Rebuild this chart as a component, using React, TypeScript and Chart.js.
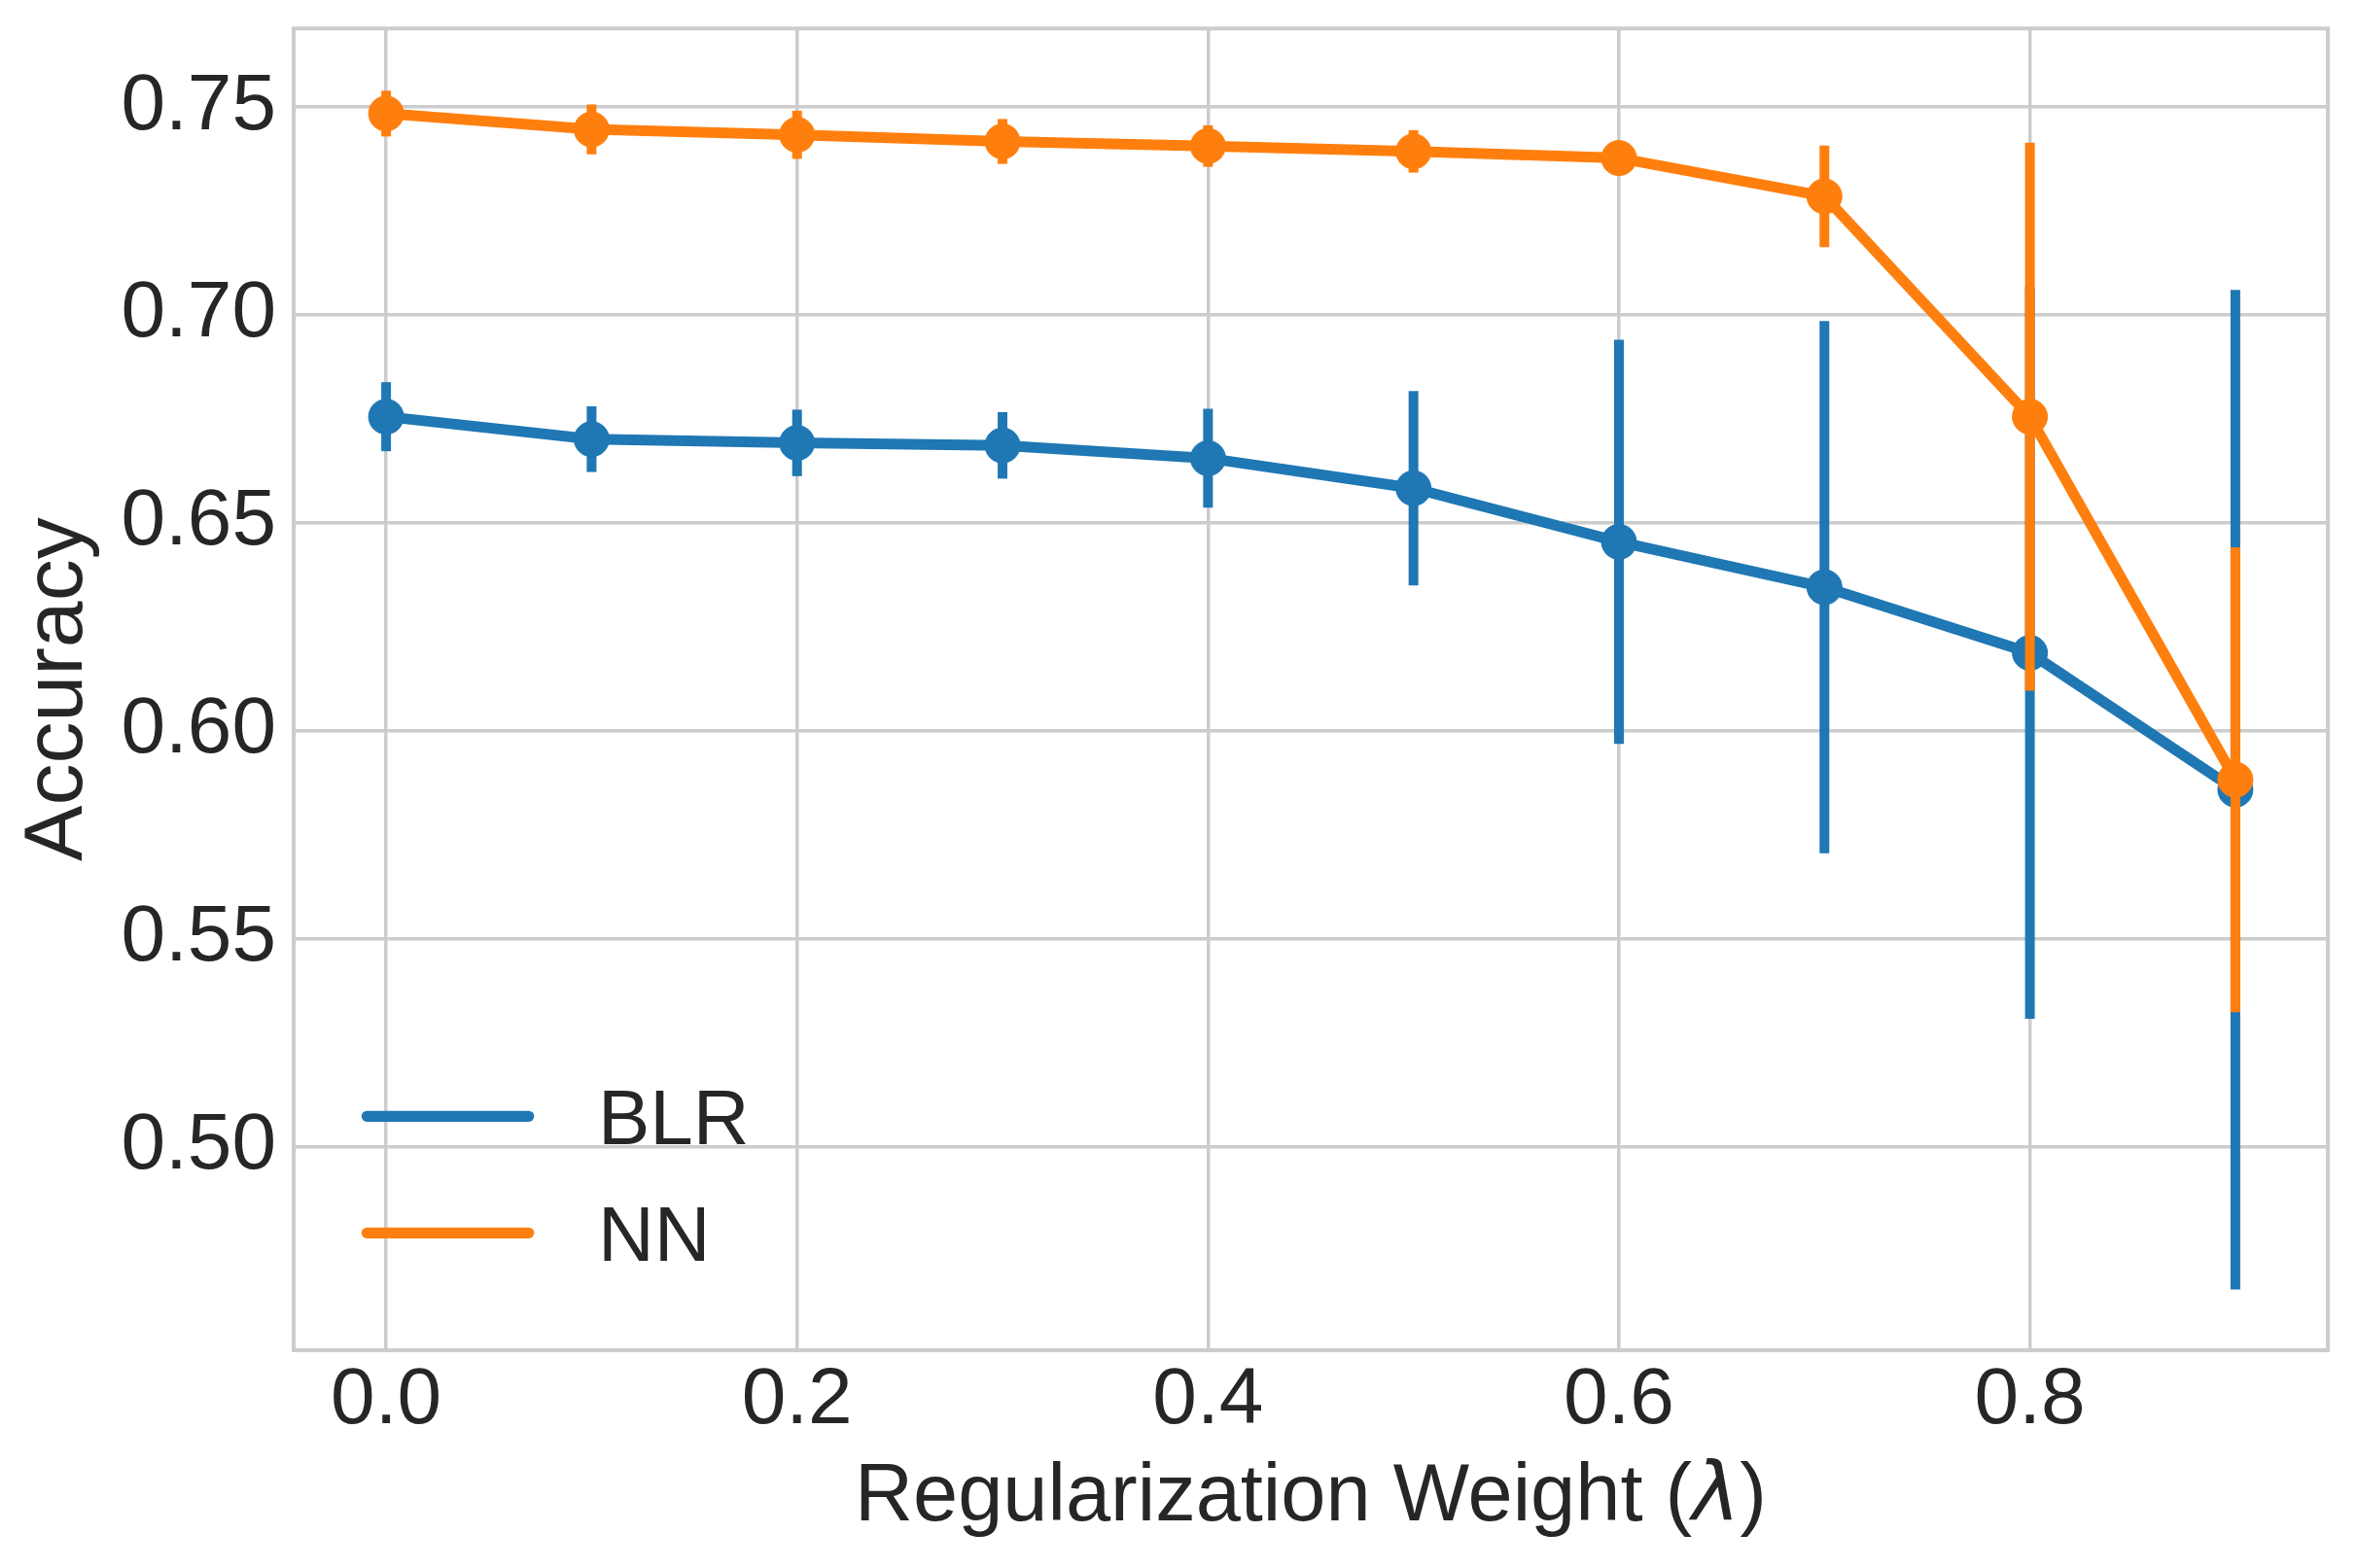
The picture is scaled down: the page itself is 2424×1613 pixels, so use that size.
import React, { useEffect, useRef } from 'react';
import { Chart, registerables } from 'chart.js';

Chart.register(...registerables);

// ---- data ----
const lambdas = [0.0, 0.1, 0.2, 0.3, 0.4, 0.5, 0.6, 0.7, 0.8, 0.9];
const blrMean = [0.6755, 0.6701, 0.6692, 0.6686, 0.6655, 0.6583, 0.6454, 0.6345, 0.6187, 0.5858];
const blrErr = [0.0083, 0.0079, 0.008, 0.008, 0.0119, 0.0234, 0.0486, 0.064, 0.088, 0.1202];
const nnMean = [0.7484, 0.7446, 0.7433, 0.7417, 0.7406, 0.7393, 0.7377, 0.7285, 0.6755, 0.5882];
const nnErr = [0.0055, 0.006, 0.0058, 0.0054, 0.005, 0.0051, 0.003, 0.0122, 0.0659, 0.0559];
const seriesLabels = ['BLR', 'NN'];
const xTicks = [0.0, 0.2, 0.4, 0.6, 0.8];
const yTicks = [0.5, 0.55, 0.6, 0.65, 0.7, 0.75];
const xLabelParts = ['Regularization Weight (', 'λ', ')'];
const yLabel = 'Accuracy';

const BLUE = '#1f77b4';
const ORANGE = '#ff7f0e';
const TEXT = '#262626';
const GRID = '#cccccc';
const FONT = "'Liberation Sans', Arial, Helvetica, sans-serif";
const MATH_FONT = "'DejaVu Sans', sans-serif";

const W = 2424;
const H = 1613;
const TICK_SIZE = 82;
const YLABEL_SIZE = 86;
const XLABEL_SIZE = 83;
const LEGEND_SIZE = 80;

const errorBarPlugin = {
  id: 'errorBars',
  beforeDatasetDraw(chart: any, args: any) {
    const ds = chart.data.datasets[args.index];
    const errs: number[] = ds.errors;
    if (!errs) return;
    const xs = chart.scales.x;
    const ys = chart.scales.y;
    const ctx = chart.ctx;
    ctx.save();
    ctx.strokeStyle = ds.borderColor;
    ctx.lineWidth = 10;
    ctx.lineCap = 'butt';
    ds.data.forEach((p: any, i: number) => {
      const x = xs.getPixelForValue(p.x);
      const y1 = ys.getPixelForValue(p.y + errs[i]);
      const y2 = ys.getPixelForValue(p.y - errs[i]);
      ctx.beginPath();
      ctx.moveTo(x, y1);
      ctx.lineTo(x, y2);
      ctx.stroke();
    });
    ctx.restore();
  },
};

const framePlugin = {
  id: 'frame',
  beforeDatasetsDraw(chart: any) {
    const { left, right, top, bottom } = chart.chartArea;
    const ctx = chart.ctx;
    ctx.save();
    ctx.strokeStyle = GRID;
    ctx.lineWidth = 4;
    ctx.strokeRect(left, top, right - left, bottom - top);
    ctx.restore();
  },
};

const xTitlePlugin = {
  id: 'xTitle',
  afterDraw(chart: any) {
    const { left, right } = chart.chartArea;
    const ctx = chart.ctx;
    ctx.save();
    ctx.fillStyle = TEXT;
    ctx.textBaseline = 'alphabetic';
    ctx.textAlign = 'left';
    const fonts = [
      `${XLABEL_SIZE}px ${FONT}`,
      `italic ${XLABEL_SIZE}px ${MATH_FONT}`,
      `${XLABEL_SIZE}px ${FONT}`,
    ];
    const widths = xLabelParts.map((t, i) => {
      ctx.font = fonts[i];
      return ctx.measureText(t).width;
    });
    const total = widths.reduce((a, b) => a + b, 0);
    let x = (left + right) / 2 - total / 2;
    const baseline = chart.scales.x.bottom - 49;
    xLabelParts.forEach((t, i) => {
      ctx.font = fonts[i];
      ctx.fillText(t, x, baseline);
      x += widths[i];
    });
    ctx.restore();
  },
};

const legendPlugin = {
  id: 'innerLegend',
  afterDraw(chart: any) {
    const { left, bottom } = chart.chartArea;
    const ctx = chart.ctx;
    const datasets = chart.data.datasets;
    const rowGap = 120;
    ctx.save();
    datasets.forEach((ds: any, i: number) => {
      const y = bottom - 120.7 - (datasets.length - 1 - i) * rowGap;
      ctx.strokeStyle = ds.borderColor;
      ctx.lineWidth = 11.3;
      ctx.lineCap = 'round';
      ctx.beginPath();
      ctx.moveTo(left + 75.4, y);
      ctx.lineTo(left + 241.7, y);
      ctx.stroke();
      ctx.fillStyle = TEXT;
      ctx.font = `${LEGEND_SIZE}px ${FONT}`;
      ctx.textBaseline = 'alphabetic';
      ctx.textAlign = 'left';
      ctx.fillText(ds.label, left + 313, y + 28.4);
    });
    ctx.restore();
  },
};

export default function App() {
  const ref = useRef<HTMLCanvasElement | null>(null);

  useEffect(() => {
    if (!ref.current) return;
    const mk = (mean: number[]) => lambdas.map((x, i) => ({ x, y: mean[i] }));
    const common = {
      borderWidth: 11,
      pointRadius: 18,
      pointBorderWidth: 1,
      borderJoinStyle: 'round',
      tension: 0,
    };
    const chart = new Chart(ref.current, {
      type: 'line',
      data: {
        datasets: [
          {
            ...common,
            label: seriesLabels[0],
            data: mk(blrMean),
            errors: blrErr,
            borderColor: BLUE,
            backgroundColor: BLUE,
            pointBackgroundColor: BLUE,
            pointBorderColor: BLUE,
            order: 2,
          } as any,
          {
            ...common,
            label: seriesLabels[1],
            data: mk(nnMean),
            errors: nnErr,
            borderColor: ORANGE,
            backgroundColor: ORANGE,
            pointBackgroundColor: ORANGE,
            pointBorderColor: ORANGE,
            order: 1,
          } as any,
        ],
      },
      options: {
        animation: false,
        responsive: false,
        devicePixelRatio: 1,
        layout: { padding: { top: 29.3, right: 30, left: 0, bottom: 0 } },
        plugins: {
          legend: { display: false },
          tooltip: { enabled: false },
        },
        scales: {
          x: {
            type: 'linear',
            min: -0.045,
            max: 0.945,
            afterBuildTicks: (s: any) => {
              s.ticks = xTicks.map((v) => ({ value: v }));
            },
            afterFit: (s: any) => {
              s.height = H - 1389;
              s.paddingLeft = 0;
              s.paddingRight = 0;
              s.paddingTop = 0;
              s.paddingBottom = 0;
            },
            ticks: {
              autoSkip: false,
              maxRotation: 0,
              padding: 3,
              color: TEXT,
              font: { size: TICK_SIZE, family: FONT },
              callback: (v: any) => Number(v).toFixed(1),
            },
            grid: { color: GRID, lineWidth: 3.5, drawTicks: false },
            border: { display: false },
            title: { display: false },
          },
          y: {
            type: 'linear',
            min: 0.45097,
            max: 0.76887,
            afterBuildTicks: (s: any) => {
              s.ticks = yTicks.map((v) => ({ value: v }));
            },
            afterFit: (s: any) => {
              s.width = 302;
              s.paddingLeft = 0;
              s.paddingRight = 0;
              s.paddingTop = 0;
              s.paddingBottom = 0;
            },
            ticks: {
              autoSkip: false,
              padding: 18,
              color: TEXT,
              font: { size: TICK_SIZE, family: FONT },
              callback: (v: any) => Number(v).toFixed(2),
            },
            grid: { color: GRID, lineWidth: 3.5, drawTicks: false },
            border: { display: false },
            title: {
              display: true,
              text: yLabel,
              color: TEXT,
              font: { size: YLABEL_SIZE, family: FONT },
              padding: { top: 8.6, bottom: 0 },
            },
          },
        },
      } as any,
      plugins: [errorBarPlugin, framePlugin, xTitlePlugin, legendPlugin],
    });
    return () => chart.destroy();
  }, []);

  return (
    <div style={{ position: 'fixed', left: 0, top: 0, width: W, height: H, background: '#ffffff' }}>
      <canvas ref={ref} width={W} height={H} style={{ width: W, height: H, display: 'block' }} />
    </div>
  );
}
